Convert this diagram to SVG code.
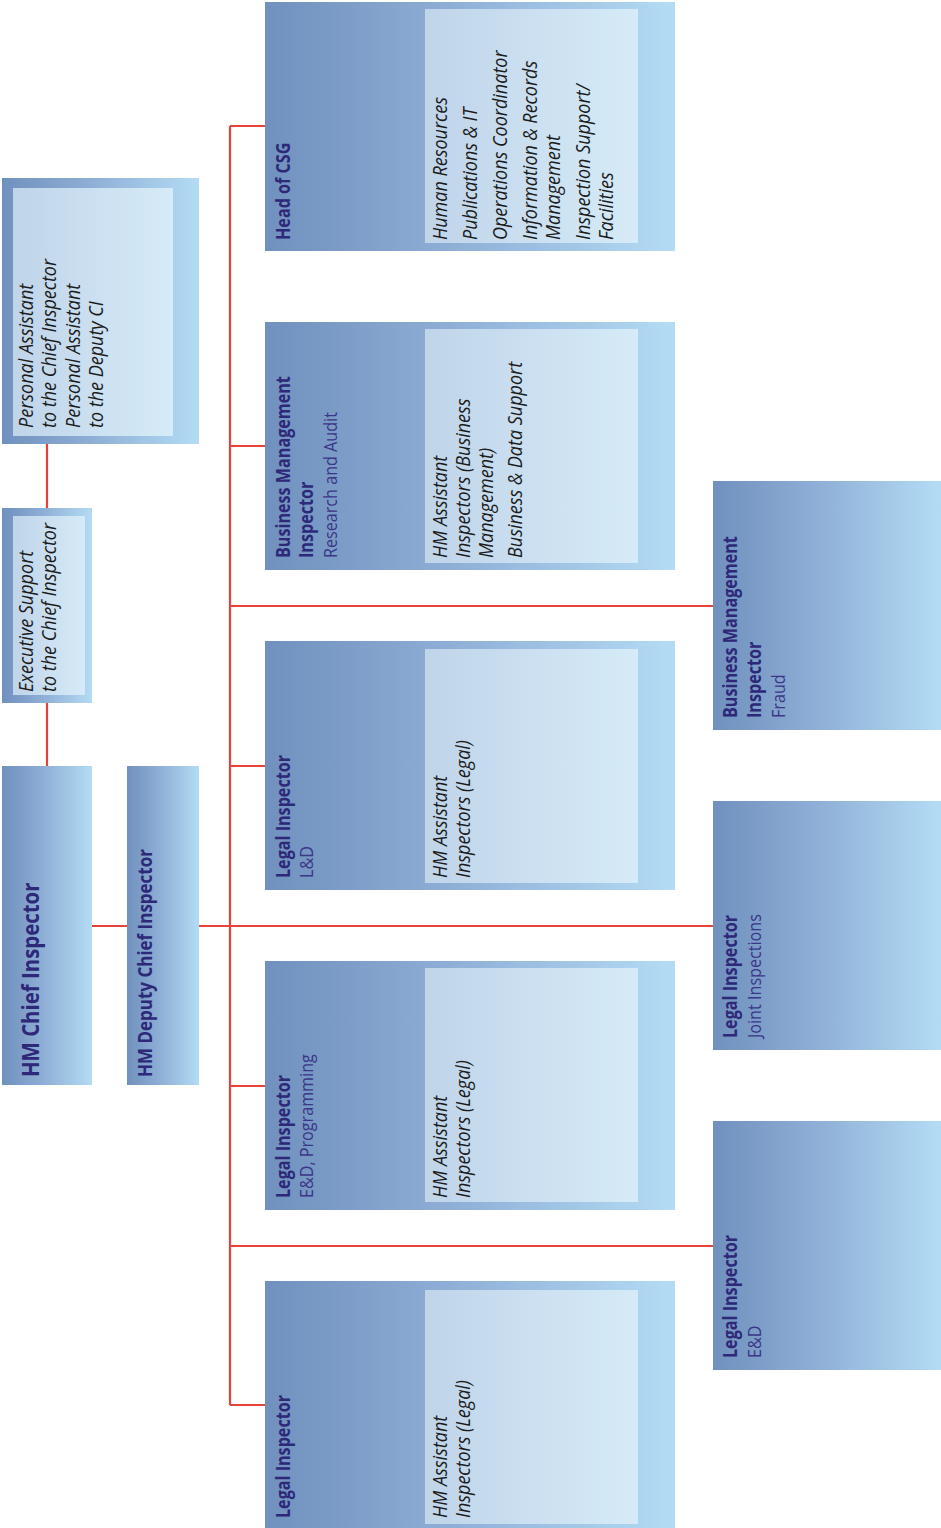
<svg xmlns="http://www.w3.org/2000/svg" width="941" height="1528" viewBox="0 0 941 1528">
<defs>
<linearGradient id="gBox" x1="0" y1="0" x2="1" y2="0">
<stop offset="0" stop-color="#7090be"/>
<stop offset="0.45" stop-color="#8eaed6"/>
<stop offset="1" stop-color="#b3dcf4"/>
</linearGradient>
<linearGradient id="gIn" x1="0" y1="0" x2="1" y2="0">
<stop offset="0" stop-color="#c0d4ea"/>
<stop offset="1" stop-color="#d6ebf7"/>
</linearGradient>
<style>
.box{fill:url(#gBox)}
.in{fill:url(#gIn)}
.ln{stroke:#e8413c;stroke-width:2.2;fill:none}
text{font-family:"Open Sans","Noto Sans",sans-serif}
.t{font-weight:700;fill:#2e2879;font-size:19px}
.big{font-weight:700;fill:#2e2879;font-size:24px}
.dep{font-weight:700;fill:#2e2879;font-size:20px}
.s{font-weight:400;fill:#3b3688;font-size:19px}
.i{font-style:italic;fill:#1c1c1c;font-size:20px}
</style>
</defs>
<g id="connectors">
<path class="ln" d="M47 444V508M47 703V766M92 926H127M199 926H713M230 126V1405M230 126H265M230 446H265M230 766H265M230 1086H265M230 1405H265M230 606H713M230 1246H713"/>
</g>
<g id="pa">
<rect class="box" x="2" y="178" width="197" height="266"/>
<rect class="in" x="13" y="188" width="160" height="248"/>
<text class="i" transform="translate(0,428) rotate(-90) scale(0.9,1)"><tspan x="0" y="33">Personal Assistant</tspan><tspan x="0" y="56">to the Chief Inspector</tspan><tspan x="0" y="80">Personal Assistant</tspan><tspan x="0" y="103">to the Deputy CI</tspan></text>
</g>
<g id="exec">
<rect class="box" x="2" y="508" width="90" height="195"/>
<rect class="in" x="13" y="516" width="72" height="179"/>
<text class="i" transform="translate(0,692) rotate(-90) scale(0.9,1)"><tspan x="0" y="33">Executive Support</tspan><tspan x="0" y="56">to the Chief Inspector</tspan></text>
</g>
<g id="chief">
<rect class="box" x="2" y="766" width="90" height="319"/>
<text class="big" transform="translate(39,1077) rotate(-90) scale(0.85,1)">HM Chief Inspector</text>
</g>
<g id="deputy">
<rect class="box" x="127" y="766" width="72" height="319"/>
<text class="dep" transform="translate(152,1077) rotate(-90) scale(0.85,1)">HM Deputy Chief Inspector</text>
</g>
<g id="csg">
<rect class="box" x="265" y="2" width="410" height="249"/>
<rect class="in" x="425" y="9" width="213" height="234"/>
<text class="t" transform="translate(0,240) rotate(-90) scale(0.85,1)"><tspan x="0" y="290">Head of CSG</tspan></text>
<text class="i" transform="translate(0,240) rotate(-90) scale(0.9,1)"><tspan x="0" y="447">Human Resources</tspan><tspan x="0" y="477">Publications &amp; IT</tspan><tspan x="0" y="507">Operations Coordinator</tspan><tspan x="0" y="537">Information &amp; Records</tspan><tspan x="0" y="560">Management</tspan><tspan x="0" y="590">Inspection Support/</tspan><tspan x="0" y="613">Facilities</tspan></text>
</g>
<g id="bm-ra">
<rect class="box" x="265" y="322" width="410" height="248"/>
<rect class="in" x="425" y="329" width="213" height="234"/>
<text class="t" transform="translate(0,558) rotate(-90) scale(0.85,1)"><tspan x="0" y="290">Business Management</tspan><tspan x="0" y="313">Inspector</tspan></text>
<text class="s" transform="translate(0,558) rotate(-90) scale(0.85,1)"><tspan x="0" y="337">Research and Audit</tspan></text>
<text class="i" transform="translate(0,558) rotate(-90) scale(0.9,1)"><tspan x="0" y="447">HM Assistant</tspan><tspan x="0" y="470">Inspectors (Business</tspan><tspan x="0" y="493">Management)</tspan><tspan x="0" y="522">Business &amp; Data Support</tspan></text>
</g>
<g id="legal-ld">
<rect class="box" x="265" y="641" width="410" height="249"/>
<rect class="in" x="425" y="649" width="213" height="234"/>
<text class="t" transform="translate(0,878) rotate(-90) scale(0.85,1)"><tspan x="0" y="290">Legal Inspector</tspan></text>
<text class="s" transform="translate(0,878) rotate(-90) scale(0.85,1)"><tspan x="0" y="313">L&amp;D</tspan></text>
<text class="i" transform="translate(0,878) rotate(-90) scale(0.9,1)"><tspan x="0" y="447">HM Assistant</tspan><tspan x="0" y="470">Inspectors (Legal)</tspan></text>
</g>
<g id="legal-edp">
<rect class="box" x="265" y="961" width="410" height="249"/>
<rect class="in" x="425" y="968" width="213" height="234"/>
<text class="t" transform="translate(0,1198) rotate(-90) scale(0.85,1)"><tspan x="0" y="290">Legal Inspector</tspan></text>
<text class="s" transform="translate(0,1198) rotate(-90) scale(0.85,1)"><tspan x="0" y="313">E&amp;D, Programming</tspan></text>
<text class="i" transform="translate(0,1198) rotate(-90) scale(0.9,1)"><tspan x="0" y="447">HM Assistant</tspan><tspan x="0" y="470">Inspectors (Legal)</tspan></text>
</g>
<g id="legal">
<rect class="box" x="265" y="1281" width="410" height="247"/>
<rect class="in" x="425" y="1290" width="213" height="234"/>
<text class="t" transform="translate(0,1518) rotate(-90) scale(0.85,1)"><tspan x="0" y="290">Legal Inspector</tspan></text>
<text class="i" transform="translate(0,1518) rotate(-90) scale(0.9,1)"><tspan x="0" y="447">HM Assistant</tspan><tspan x="0" y="470">Inspectors (Legal)</tspan></text>
</g>
<g id="bm-fraud">
<rect class="box" x="713" y="481" width="228" height="249"/>
<text class="t" transform="translate(0,718) rotate(-90) scale(0.85,1)"><tspan x="0" y="737">Business Management</tspan><tspan x="0" y="761">Inspector</tspan></text>
<text class="s" transform="translate(0,718) rotate(-90) scale(0.85,1)"><tspan x="0" y="785">Fraud</tspan></text>
</g>
<g id="legal-joint">
<rect class="box" x="713" y="801" width="228" height="249"/>
<text class="t" transform="translate(0,1038) rotate(-90) scale(0.85,1)"><tspan x="0" y="737">Legal Inspector</tspan></text>
<text class="s" transform="translate(0,1038) rotate(-90) scale(0.85,1)"><tspan x="0" y="761">Joint Inspections</tspan></text>
</g>
<g id="legal-ed">
<rect class="box" x="713" y="1121" width="228" height="249"/>
<text class="t" transform="translate(0,1358) rotate(-90) scale(0.85,1)"><tspan x="0" y="737">Legal Inspector</tspan></text>
<text class="s" transform="translate(0,1358) rotate(-90) scale(0.85,1)"><tspan x="0" y="761">E&amp;D</tspan></text>
</g>
</svg>
